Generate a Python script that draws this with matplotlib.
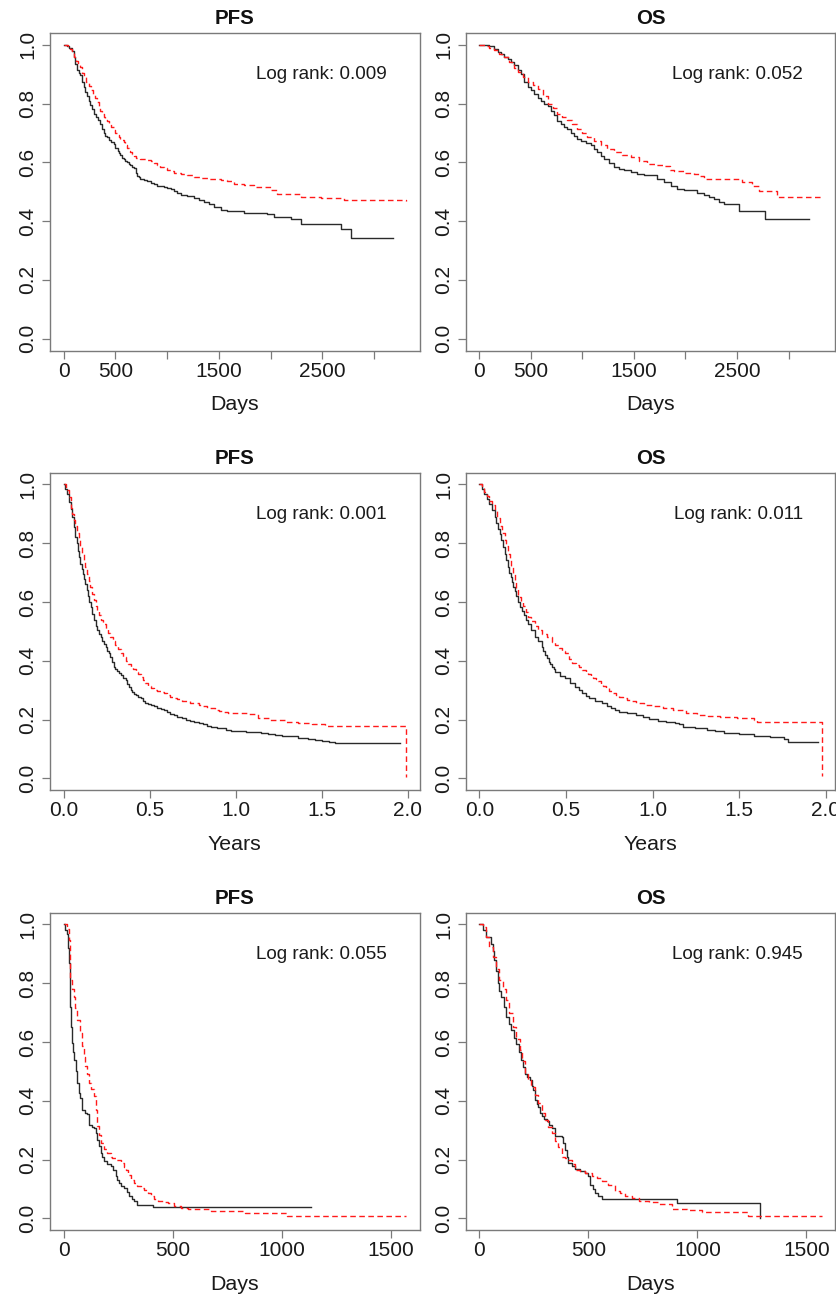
import matplotlib
matplotlib.use("Agg")
import matplotlib.pyplot as plt

plt.rcParams['font.family'] = ['Liberation Sans', 'DejaVu Sans']

# ---------------- data ----------------
titles = ["PFS", "OS", "PFS", "OS", "PFS", "OS"]
xlabels = ["Days", "Days", "Years", "Years", "Days", "Days"]
logrank = ["0.009", "0.052", "0.001", "0.011", "0.055", "0.945"]

xticks_days_long = [0, 500, 1000, 1500, 2000, 2500, 3000]
xticklabels_days_long = ["0", "500", "", "1500", "", "2500", ""]
xticks_years = [0.0, 0.5, 1.0, 1.5, 2.0]
xticklabels_years = ["0.0", "0.5", "1.0", "1.5", "2.0"]
xticks_days_short = [0, 500, 1000, 1500]
xticklabels_days_short = ["0", "500", "1000", "1500"]
yticks = [0.0, 0.2, 0.4, 0.6, 0.8, 1.0]
yticklabels = ["0.0", "0.2", "0.4", "0.6", "0.8", "1.0"]

# Panel 1: PFS (days)
p1_black_t = [0, 30, 55, 80, 97, 113, 130, 145, 161, 178, 194, 210, 226, 242, 258, 274, 290, 310, 330,
              355, 370, 387, 403, 419, 440, 460, 484, 500, 520, 532, 548, 565, 581, 597, 613, 630,
              645, 660, 677, 695, 710, 726, 742, 774, 806, 839, 871, 903, 935, 968, 1000, 1032, 1065,
              1097, 1129, 1194, 1258, 1306, 1355, 1403, 1452, 1516, 1580, 1645, 1742, 1968, 2032,
              2194, 2290, 2676, 2779, 3179]
p1_black_s = [1.0, 0.995, 0.99, 0.98, 0.96, 0.935, 0.915, 0.905, 0.896, 0.875, 0.856, 0.84, 0.825,
              0.81, 0.795, 0.78, 0.765, 0.755, 0.745, 0.731, 0.715, 0.70, 0.69, 0.686, 0.675, 0.668,
              0.663, 0.65, 0.64, 0.632, 0.624, 0.615, 0.61, 0.605, 0.6, 0.595, 0.59, 0.585, 0.58,
              0.565, 0.555, 0.55, 0.545, 0.54, 0.535, 0.53, 0.525, 0.52, 0.518, 0.515, 0.513, 0.51,
              0.502, 0.495, 0.488, 0.484, 0.48, 0.473, 0.465, 0.458, 0.448, 0.439, 0.436, 0.434,
              0.429, 0.423, 0.414, 0.408, 0.391, 0.372, 0.342, 0.342]
p1_red_t = [0, 40, 60, 80, 100, 120, 140, 161, 180, 200, 220, 242, 260, 280, 300, 323, 340, 355, 371,
            387, 403, 419, 440, 460, 484, 500, 516, 532, 548, 565, 581, 597, 613, 630, 645, 660, 677,
            700, 742, 774, 806, 839, 871, 903, 935, 968, 1000, 1032, 1065, 1129, 1194, 1258, 1323,
            1400, 1516, 1580, 1645, 1742, 1839, 2000, 2065, 2290, 2484, 2710, 3305]
p1_red_s = [1.0, 0.99, 0.985, 0.975, 0.96, 0.945, 0.935, 0.924, 0.905, 0.89, 0.875, 0.86, 0.845,
            0.83, 0.82, 0.805, 0.79, 0.775, 0.765, 0.755, 0.745, 0.74, 0.73, 0.72, 0.71, 0.70, 0.693,
            0.687, 0.68, 0.675, 0.668, 0.66, 0.65, 0.64, 0.635, 0.628, 0.62, 0.615, 0.612, 0.61,
            0.607, 0.603, 0.598, 0.59, 0.585, 0.58, 0.575, 0.57, 0.565, 0.56, 0.556, 0.55, 0.546,
            0.545, 0.541, 0.535, 0.527, 0.522, 0.516, 0.505, 0.493, 0.482, 0.48, 0.471, 0.47]

# Panel 2: OS (days)
p2_black_t = [0, 97, 145, 180, 210, 240, 274, 305, 339, 371, 403, 435, 468, 500, 532, 565, 597, 629,
              661, 694, 726, 758, 790, 823, 855, 887, 919, 952, 984, 1032, 1081, 1113, 1145, 1177,
              1210, 1258, 1306, 1355, 1403, 1468, 1532, 1596, 1661, 1725, 1790, 1855, 1919, 1984,
              2048, 2113, 2177, 2226, 2274, 2323, 2371, 2517, 2776, 3194]
p2_black_s = [1.0, 0.995, 0.985, 0.975, 0.968, 0.96, 0.95, 0.94, 0.93, 0.915, 0.90, 0.875, 0.855,
              0.845, 0.832, 0.82, 0.81, 0.80, 0.79, 0.775, 0.76, 0.74, 0.731, 0.72, 0.712, 0.70,
              0.69, 0.68, 0.672, 0.665, 0.658, 0.645, 0.635, 0.622, 0.612, 0.598, 0.584, 0.578,
              0.573, 0.566, 0.561, 0.558, 0.556, 0.545, 0.533, 0.52, 0.51, 0.507, 0.505, 0.495,
              0.488, 0.482, 0.476, 0.465, 0.457, 0.434, 0.408, 0.408]
p2_red_t = [0, 50, 97, 145, 194, 242, 290, 339, 371, 420, 468, 516, 565, 613, 661, 710, 758, 806, 855,
            903, 952, 1000, 1048, 1113, 1177, 1242, 1306, 1387, 1468, 1548, 1629, 1710, 1790, 1850,
            1887, 1984, 2081, 2130, 2177, 2325, 2548, 2644, 2711, 2888, 3320]
p2_red_s = [1.0, 0.995, 0.99, 0.983, 0.97, 0.958, 0.94, 0.92, 0.907, 0.89, 0.873, 0.862, 0.85, 0.825,
            0.80, 0.785, 0.765, 0.755, 0.743, 0.73, 0.714, 0.70, 0.686, 0.672, 0.658, 0.645, 0.635,
            0.625, 0.618, 0.605, 0.595, 0.592, 0.588, 0.575, 0.57, 0.565, 0.561, 0.552, 0.544,
            0.542, 0.533, 0.521, 0.502, 0.482, 0.482]

# Panel 3: PFS (years)
p3_black_t = [0, 0.01, 0.019, 0.03, 0.04, 0.049, 0.058, 0.068, 0.075, 0.083, 0.09, 0.097, 0.105,
              0.112, 0.119, 0.126, 0.134, 0.141, 0.148, 0.156, 0.165, 0.175, 0.185, 0.195, 0.204,
              0.214, 0.224, 0.233, 0.243, 0.253, 0.262, 0.272, 0.282, 0.292, 0.301, 0.311, 0.321,
              0.331, 0.345, 0.36, 0.37, 0.38, 0.39, 0.399, 0.41, 0.42, 0.433, 0.447, 0.46, 0.475,
              0.49, 0.506, 0.525, 0.545, 0.565, 0.584, 0.6, 0.62, 0.64, 0.661, 0.685, 0.71, 0.735,
              0.759, 0.785, 0.81, 0.835, 0.856, 0.89, 0.92, 0.945, 0.973, 1.02, 1.06, 1.1, 1.148,
              1.19, 1.23, 1.27, 1.304, 1.36, 1.42, 1.46, 1.5, 1.54, 1.576, 1.955]
p3_black_s = [1.0, 0.985, 0.969, 0.94, 0.915, 0.89, 0.855, 0.822, 0.8, 0.775, 0.752, 0.731, 0.712,
              0.695, 0.68, 0.663, 0.64, 0.62, 0.6, 0.584, 0.56, 0.54, 0.52, 0.505, 0.492, 0.48,
              0.468, 0.459, 0.448, 0.435, 0.425, 0.414, 0.395, 0.38, 0.372, 0.365, 0.358, 0.351,
              0.343, 0.334, 0.322, 0.31, 0.302, 0.295, 0.288, 0.283, 0.278, 0.272, 0.264, 0.258,
              0.253, 0.249, 0.245, 0.24, 0.236, 0.232, 0.226, 0.22, 0.215, 0.21, 0.205, 0.2, 0.197,
              0.193, 0.189, 0.185, 0.18, 0.176, 0.173, 0.17, 0.166, 0.162, 0.16, 0.158, 0.157, 0.155,
              0.152, 0.148, 0.146, 0.144, 0.138, 0.133, 0.13, 0.127, 0.124, 0.121, 0.121]
p3_red_t = [0, 0.015, 0.029, 0.044, 0.051, 0.058, 0.068, 0.078, 0.088, 0.097, 0.107, 0.117, 0.126,
            0.136, 0.146, 0.155, 0.165, 0.175, 0.185, 0.195, 0.204, 0.214, 0.228, 0.243, 0.257,
            0.272, 0.286, 0.3, 0.315, 0.331, 0.345, 0.36, 0.375, 0.389, 0.403, 0.418, 0.432, 0.447,
            0.46, 0.475, 0.49, 0.506, 0.525, 0.545, 0.565, 0.584, 0.6, 0.62, 0.64, 0.661, 0.685,
            0.71, 0.735, 0.759, 0.785, 0.81, 0.835, 0.856, 0.88, 0.9, 0.925, 0.953, 1.07, 1.128,
            1.2, 1.284, 1.36, 1.44, 1.52, 1.595, 1.988]
p3_red_s = [1.0, 0.98, 0.958, 0.92, 0.9, 0.879, 0.857, 0.835, 0.81, 0.788, 0.763, 0.74, 0.718, 0.697,
            0.672, 0.65, 0.628, 0.607, 0.588, 0.57, 0.555, 0.539, 0.525, 0.51, 0.496, 0.482, 0.468,
            0.455, 0.44, 0.425, 0.412, 0.4, 0.39, 0.38, 0.371, 0.362, 0.354, 0.346, 0.335, 0.325,
            0.315, 0.306, 0.301, 0.297, 0.293, 0.289, 0.283, 0.278, 0.273, 0.269, 0.265, 0.262,
            0.258, 0.255, 0.25, 0.245, 0.241, 0.238, 0.234, 0.23, 0.226, 0.223, 0.219, 0.207, 0.2,
            0.193, 0.19, 0.185, 0.18, 0.178, 0.006]

# Panel 4: OS (years)
p4_black_t = [0, 0.015, 0.029, 0.044, 0.058, 0.073, 0.088, 0.097, 0.107, 0.117, 0.126, 0.136, 0.146,
              0.155, 0.165, 0.172, 0.18, 0.188, 0.195, 0.204, 0.214, 0.224, 0.233, 0.245, 0.258,
              0.27, 0.282, 0.3, 0.321, 0.34, 0.36, 0.37, 0.38, 0.39, 0.399, 0.408, 0.418, 0.428,
              0.438, 0.467, 0.496, 0.525, 0.554, 0.574, 0.593, 0.613, 0.632, 0.67, 0.71, 0.735,
              0.76, 0.785, 0.807, 0.855, 0.905, 0.945, 0.982, 1.03, 1.08, 1.13, 1.155, 1.177, 1.245,
              1.313, 1.36, 1.41, 1.5, 1.586, 1.68, 1.761, 1.78, 1.955]
p4_black_s = [1.0, 0.985, 0.969, 0.952, 0.935, 0.912, 0.89, 0.87, 0.85, 0.83, 0.81, 0.788, 0.765,
              0.742, 0.72, 0.70, 0.685, 0.668, 0.652, 0.636, 0.62, 0.6, 0.584, 0.57, 0.555, 0.54,
              0.527, 0.505, 0.482, 0.466, 0.448, 0.434, 0.42, 0.408, 0.397, 0.388, 0.38, 0.371,
              0.363, 0.35, 0.34, 0.325, 0.312, 0.3, 0.29, 0.28, 0.272, 0.263, 0.255, 0.248, 0.24,
              0.233, 0.227, 0.222, 0.215, 0.208, 0.201, 0.197, 0.193, 0.19, 0.185, 0.176, 0.17,
              0.164, 0.16, 0.153, 0.15, 0.144, 0.14, 0.133, 0.125, 0.125]
p4_red_t = [0, 0.015, 0.029, 0.044, 0.058, 0.073, 0.088, 0.102, 0.117, 0.131, 0.146, 0.155, 0.165,
            0.175, 0.185, 0.195, 0.204, 0.214, 0.224, 0.238, 0.253, 0.267, 0.282, 0.3, 0.321, 0.34,
            0.36, 0.389, 0.418, 0.437, 0.457, 0.476, 0.496, 0.515, 0.535, 0.555, 0.574, 0.593, 0.613,
            0.627, 0.642, 0.656, 0.671, 0.685, 0.7, 0.715, 0.73, 0.75, 0.77, 0.79, 0.807, 0.83,
            0.855, 0.88, 0.905, 0.95, 1.002, 1.06, 1.119, 1.19, 1.255, 1.32, 1.391, 1.49, 1.586,
            1.605, 1.975]
p4_red_s = [1.0, 0.99, 0.975, 0.96, 0.945, 0.93, 0.913, 0.885, 0.86, 0.835, 0.81, 0.79, 0.765, 0.742,
            0.72, 0.695, 0.67, 0.645, 0.618, 0.6, 0.585, 0.567, 0.55, 0.535, 0.52, 0.505, 0.493,
            0.48, 0.465, 0.455, 0.445, 0.435, 0.425, 0.405, 0.391, 0.385, 0.378, 0.37, 0.363, 0.355,
            0.348, 0.342, 0.337, 0.33, 0.322, 0.314, 0.306, 0.297, 0.29, 0.284, 0.278, 0.273, 0.268,
            0.262, 0.255, 0.25, 0.246, 0.24, 0.232, 0.224, 0.215, 0.212, 0.21, 0.205, 0.2, 0.193,
            0.008]

# Panel 5: PFS (days)
p5_black_t = [0, 8, 15, 19, 23, 27, 31, 35, 38, 44, 49, 55, 62, 69, 77, 85, 100, 108, 115, 130, 138,
              146, 154, 162, 169, 177, 185, 200, 215, 228, 238, 246, 254, 265, 277, 290, 300, 312,
              323, 338, 408, 1135]
p5_black_s = [1.0, 0.98, 0.969, 0.92, 0.87, 0.79, 0.72, 0.65, 0.596, 0.565, 0.54, 0.5, 0.46, 0.426,
              0.41, 0.37, 0.36, 0.356, 0.319, 0.312, 0.308, 0.29, 0.268, 0.245, 0.223, 0.208, 0.195,
              0.185, 0.178, 0.165, 0.144, 0.13, 0.121, 0.11, 0.104, 0.09, 0.076, 0.066, 0.059,
              0.047, 0.04, 0.04]
p5_red_t = [0, 15, 23, 27, 31, 38, 46, 54, 62, 73, 85, 92, 100, 108, 115, 127, 138, 146, 154, 162,
            169, 185, 200, 215, 223, 240, 262, 275, 285, 297, 308, 323, 338, 354, 369, 385, 400, 415,
            431, 455, 477, 508, 540, 569, 677, 831, 1023, 1569]
p5_red_s = [1.0, 0.986, 0.947, 0.88, 0.81, 0.78, 0.754, 0.715, 0.675, 0.63, 0.585, 0.55, 0.517, 0.49,
            0.46, 0.44, 0.415, 0.37, 0.313, 0.285, 0.257, 0.235, 0.223, 0.21, 0.206, 0.2, 0.189,
            0.175, 0.166, 0.148, 0.132, 0.12, 0.11, 0.104, 0.098, 0.085, 0.076, 0.066, 0.059, 0.057,
            0.053, 0.042, 0.036, 0.031, 0.027, 0.019, 0.008, 0.008]

# Panel 6: OS (days)
p6_black_t = [0, 15, 31, 54, 62, 69, 77, 85, 92, 100, 112, 123, 135, 146, 158, 169, 181, 192, 200,
              208, 220, 231, 240, 246, 254, 262, 269, 277, 285, 296, 308, 320, 331, 346, 377, 385,
              392, 400, 408, 423, 438, 462, 485, 500, 508, 520, 531, 545, 562, 908, 1285]
p6_black_s = [1.0, 0.981, 0.958, 0.935, 0.91, 0.879, 0.84, 0.80, 0.775, 0.754, 0.72, 0.686, 0.66,
              0.641, 0.615, 0.595, 0.565, 0.539, 0.515, 0.493, 0.48, 0.471, 0.45, 0.437, 0.403, 0.39,
              0.38, 0.36, 0.347, 0.338, 0.33, 0.318, 0.307, 0.279, 0.276, 0.255, 0.234, 0.21, 0.189,
              0.178, 0.167, 0.16, 0.155, 0.145, 0.115, 0.1, 0.087, 0.075, 0.067, 0.051, 0.0]
p6_red_t = [0, 15, 31, 46, 62, 77, 92, 108, 123, 138, 154, 169, 185, 196, 208, 223, 238, 254, 269,
            285, 300, 315, 331, 346, 362, 377, 392, 408, 423, 438, 462, 485, 515, 540, 562, 590, 623,
            646, 669, 700, 731, 777, 823, 885, 950, 1023, 1231, 1569]
p6_red_s = [1.0, 0.99, 0.958, 0.925, 0.89, 0.85, 0.81, 0.78, 0.743, 0.7, 0.652, 0.61, 0.573, 0.535,
            0.493, 0.47, 0.448, 0.42, 0.391, 0.36, 0.334, 0.31, 0.289, 0.265, 0.244, 0.21, 0.205, 0.2,
            0.185, 0.166, 0.16, 0.155, 0.144, 0.138, 0.127, 0.115, 0.093, 0.085, 0.076, 0.068, 0.059,
            0.055, 0.048, 0.031, 0.03, 0.021, 0.01, 0.01]

panels = [
    (p1_black_t, p1_black_s, p1_red_t, p1_red_s, xticks_days_long, xticklabels_days_long),
    (p2_black_t, p2_black_s, p2_red_t, p2_red_s, xticks_days_long, xticklabels_days_long),
    (p3_black_t, p3_black_s, p3_red_t, p3_red_s, xticks_years, xticklabels_years),
    (p4_black_t, p4_black_s, p4_red_t, p4_red_s, xticks_years, xticklabels_years),
    (p5_black_t, p5_black_s, p5_red_t, p5_red_s, xticks_days_short, xticklabels_days_short),
    (p6_black_t, p6_black_s, p6_red_t, p6_red_s, xticks_days_short, xticklabels_days_short),
]

# ---------------- layout ----------------
W, H = 836, 1300
fig = plt.figure(figsize=(W / 100, H / 100), dpi=100)
col_left = [50, 465.7]
col_w = 369.5
row_top = [33, 472.7, 912.7]
row_h = 317.5

spine_col = "#7a7a7a"
for i, (bt, bs, rt, rs, xt, xtl) in enumerate(panels):
    r, c = divmod(i, 2)
    ax = fig.add_axes([col_left[c] / W, 1 - (row_top[r] + row_h) / H, col_w / W, row_h / H])
    ax.step(bt, bs, where="post", color="#2a2a2a", lw=1.0)
    ax.step(rt, rs, where="post", color="#ff1a1a", lw=1.0, linestyle=(0, (4, 2.5)))
    tmax = max(max(bt), max(rt))
    ax.set_xlim(-0.04 * tmax, 1.04 * tmax)
    ax.set_ylim(-0.04, 1.04)
    ax.set_xticks(xt)
    ax.set_xticklabels(xtl)
    ax.set_yticks(yticks)
    ax.set_yticklabels(yticklabels, rotation=90, va="center")
    ax.tick_params(axis="both", labelsize=15, length=6, width=0.9, color=spine_col,
                   labelcolor="#1a1a1a")
    ax.tick_params(axis="x", pad=2)
    ax.tick_params(axis="y", pad=3)
    for sp in ax.spines.values():
        sp.set_color(spine_col)
        sp.set_linewidth(1.0)
    ax.set_xlabel(xlabels[i], fontsize=15.4, color="#1a1a1a")
    ax.xaxis.set_label_coords(0.5, -0.14)
    ax.set_title(titles[i], fontsize=14.8, fontweight="bold", pad=6.5, color="#111111")
    ax.text(0.912, 0.854, "Log rank: " + logrank[i], transform=ax.transAxes, ha="right",
            va="baseline", fontsize=13.6, color="#1a1a1a")

fig.savefig("out.png", dpi=100)
